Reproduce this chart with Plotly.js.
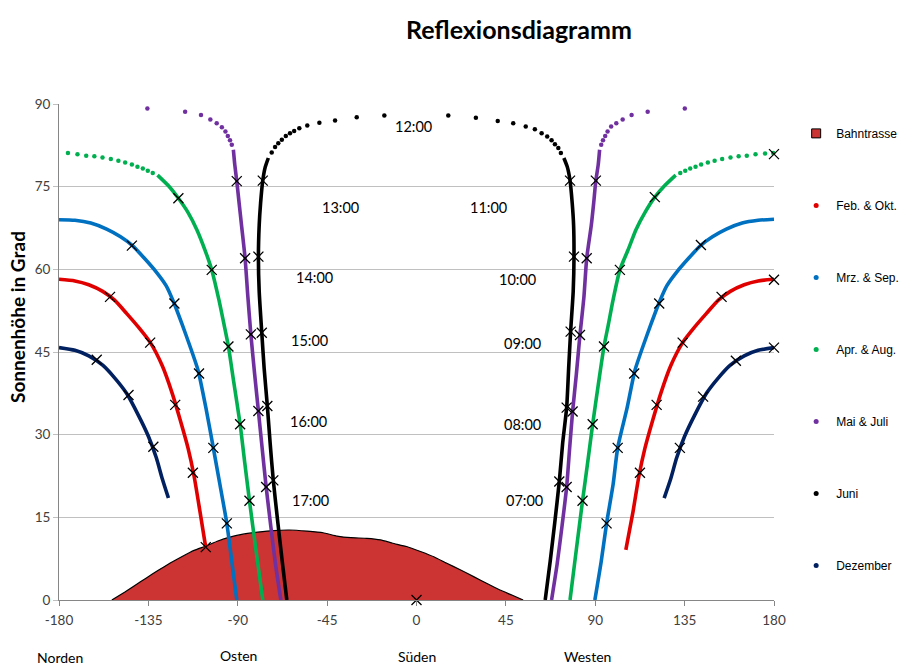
<!DOCTYPE html>
<html>
<head>
<meta charset="utf-8">
<script src="https://cdn.plot.ly/plotly-3.0.1.min.js"></script>
<style>html,body{margin:0;padding:0;background:#fff;}#chart{width:904px;height:666px;}</style>
</head>
<body>
<div id="chart"></div>
<script>
// ---------- data ----------
const seriesNames = ['Bahntrasse', 'Feb. & Okt.', 'Mrz. & Sep.', 'Apr. & Aug.', 'Mai & Juli', 'Juni', 'Dezember'];

const bahnX = [-153.4, -147, -142, -136, -130, -124, -118, -112, -106, -100, -94, -88, -80, -72, -64, -55, -47, -40, -33, -25, -18, -12, -5, 2, 9, 15, 22, 29, 36, 42, 48, 53.7];
const bahnY = [0, 1.4, 2.6, 4.0, 5.4, 6.7, 7.9, 9.0, 9.8, 10.7, 11.4, 11.9, 12.3, 12.6, 12.7, 12.5, 12.2, 11.6, 11.3, 11.2, 10.9, 10.3, 9.7, 8.8, 7.8, 6.7, 5.5, 4.2, 2.9, 1.8, 0.9, 0];

const febX = [-180, -172, -165, -158, -152, -146, -140, -134, -128, -123, -119, -115, -112, -109, -106.1, null, 105.4, 109, 112, 115, 119, 123, 128, 134, 140, 146, 152, 158, 165, 172, 180];
const febY = [58.2, 57.9, 57.2, 56.0, 54.4, 52.0, 49.5, 46.7, 42.5, 37.5, 32.7, 27.5, 22.5, 16.0, 9.5, null, 9.1, 16.0, 22.5, 27.5, 32.7, 37.5, 42.5, 46.7, 49.5, 52.0, 54.4, 56.0, 57.2, 57.9, 58.2];

const mrzX = [-180, -172, -164, -156, -149, -143, -137, -131, -126, -122, -118, -114, -110, -106, -102.3, -99, -95.5, -93, -90.5, null, 89.8, 93, 95.7, 99, 101.3, 106, 110, 114, 118, 122, 126, 131, 137, 143, 149, 156, 164, 172, 180];
const mrzY = [69.0, 68.9, 68.4, 67.3, 65.9, 64.3, 62.0, 59.5, 57.0, 53.8, 50.0, 46.0, 41.7, 34.8, 27.6, 21.0, 13.9, 7.0, 0, null, 0, 7.0, 13.9, 21.0, 27.6, 34.8, 41.7, 46.0, 50.0, 53.8, 57.0, 59.5, 62.0, 64.3, 65.9, 67.3, 68.4, 68.9, 69.1];

const aprX = [-130.4, -125, -119.9, -115, -110.6, -106.5, -103.1, -99.5, -96.8, -94.7, -92, -88.8, -86.5, -84.1, -81, -77.4, null, 77.3, 80.6, 83.6, 86.2, 88.7, 91.7, 94.4, 96.5, 99, 102.4, 106.5, 110.5, 115, 120, 125, 130.5];
const aprY = [77.1, 75.2, 72.9, 70.3, 67.2, 63.5, 59.9, 54.5, 49.8, 46.0, 39.5, 31.9, 25.0, 18.0, 9.5, 0, null, 0, 9.5, 18.0, 25.0, 31.9, 39.5, 46.0, 49.8, 54.5, 59.9, 63.5, 67.2, 70.3, 73.1, 75.2, 77.1];
const aprDotX = [-175.5, -170.7, -166.3, -162.2, -158.1, -153.9, -150.1, -146.7, -143.3, -140.5, -137.8, -135.3, -132.8, 132.8, 135.3, 137.8, 140.5, 143.3, 146.7, 150.1, 153.9, 158.1, 162.2, 166.3, 170.7, 175.5, 179.6];
const aprDotY = [81.1, 80.9, 80.6, 80.5, 80.3, 80.0, 79.7, 79.4, 79.0, 78.6, 78.3, 77.9, 77.5, 77.5, 77.9, 78.3, 78.6, 79.0, 79.4, 79.7, 80.0, 80.3, 80.5, 80.6, 80.9, 81.0, 81.1];

const maiX = [-92.2, -91.5, -90.5, -89.3, -88.1, -86.3, -84.9, -83.4, -81.5, -79.6, -77.7, -75.7, -73.4, -71, -68.3, null, 68, 70.8, 73.3, 75.6, 77.1, 78.6, 80.5, 82.3, 84.3, 85.7, 88, 89.2, 90.3, 91.5, 92.2];
const maiY = [81.7, 79.0, 76.0, 72.0, 68.0, 62.0, 55.0, 48.2, 41.0, 34.3, 27.5, 20.5, 13.5, 6.5, 0, null, 0, 6.5, 13.5, 20.5, 27.5, 34.2, 41.0, 48.1, 55.0, 62.0, 68.0, 72.0, 76.1, 79.0, 81.7];
const maiDotX = [-135.5, -116.5, -108.5, -103.8, -100.6, -98, -96.2, -95, -93.9, -93, 93, 93.9, 95, 96.2, 98, 100.6, 103.8, 108.3, 116.4, 135.1];
const maiDotY = [89.2, 88.6, 88.0, 87.2, 86.5, 85.8, 85.0, 84.2, 83.4, 82.6, 82.6, 83.4, 84.2, 85.0, 85.9, 86.5, 87.2, 88.0, 88.6, 89.2];

const juniX = [-74.6, -76.2, -77.4, -78.5, -79.2, -79.6, -79.2, -77.9, -76.7, -75.1, -73.7, -72.1, -69.8, -67.6, -65.3, null, 64.8, 67.3, 69.6, 71.9, 73.6, 75.6, 76.6, 77.6, 78.9, 79.3, 79.1, 78.4, 77.3, 76, 74.2];
const juniY = [80.2, 78.5, 76.1, 72.0, 68.0, 62.3, 56.0, 48.5, 42.0, 35.2, 28.5, 21.7, 14.0, 7.0, 0, null, 0, 7.0, 14.0, 21.5, 28.5, 34.9, 42.0, 48.7, 56.0, 62.3, 68.0, 72.0, 76.1, 78.5, 80.2];
const juniDotX = [-72.9, -71.2, -69.6, -67.8, -65.8, -63.7, -61.6, -59, -55, -48.9, -41, -30.1, -16.2, 16, 29.9, 40.9, 48.7, 55, 59.6, 63, 65.8, 68, 69.7, 71.4, 72.7];
const juniDotY = [81.2, 82.2, 82.9, 83.5, 84.2, 84.7, 85.1, 85.6, 86.1, 86.6, 87.0, 87.6, 87.9, 87.9, 87.5, 86.9, 86.5, 85.9, 85.4, 84.7, 84.1, 83.4, 82.7, 82.0, 81.1];

const dezX = [-180, -172, -165, -158, -152, -146, -140, -135, -131, -128, -124.9, null, 124.7, 128, 131, 135, 140, 146, 152, 158, 165, 172, 180];
const dezY = [45.8, 45.3, 44.3, 42.6, 40.3, 37.5, 33.5, 29.7, 25.8, 22.0, 18.5, null, 18.5, 22.0, 25.8, 29.7, 33.5, 37.5, 40.3, 42.6, 44.3, 45.3, 45.8];

// hourly positions (×)
const hourX = [-161, -145, -132.5, -154.3, -134.1, -121.5, -112.6, -106.1, -143.3, -121.9, -109.5, -102.3, -95.5, -119.9, -103.1, -94.7, -88.8, -84.1, -90.5, -86.3, -83.4, -79.6, -75.7, -77.4, -79.6, -77.9, -75.1, -72.1, 0,
  180, 160.8, 144.3, 132.6, 180, 153.6, 134, 120.9, 112.5, 143.2, 122.2, 109.6, 101.3, 95.7, 180, 120, 102.4, 94.4, 88.7, 83.6, 90.3, 85.7, 82.3, 78.6, 75.6, 77.3, 79.3, 77.6, 75.6, 71.9];
const hourY = [43.6, 37.2, 27.8, 55.0, 46.7, 35.4, 23.1, 9.6, 64.3, 53.8, 41.1, 27.6, 13.9, 72.9, 59.9, 46.0, 31.9, 18.0, 76.0, 62.0, 48.2, 34.3, 20.5, 76.1, 62.3, 48.5, 35.2, 21.7, 0,
  45.8, 43.4, 36.9, 27.6, 58.1, 55.0, 46.7, 35.4, 23.1, 64.4, 53.8, 41.1, 27.6, 13.9, 80.9, 73.1, 59.9, 46.0, 31.9, 18.0, 76.1, 62.0, 48.1, 34.2, 20.5, 76.1, 62.3, 48.7, 34.9, 21.5];

const hourLabels = ['12:00', '13:00', '11:00', '14:00', '10:00', '15:00', '09:00', '16:00', '08:00', '17:00', '07:00'];
const dirLabels = ['Norden', 'Osten', 'Süden', 'Westen', 'Norden'];
const xTicks = [-180, -135, -90, -45, 0, 45, 90, 135, 180];
const yTicks = [0, 15, 30, 45, 60, 75, 90];

// ---------- styling ----------
const colors = {bahn: '#CC3333', feb: '#E00000', mrz: '#0070C0', apr: '#00B050', mai: '#7030A0', juni: '#000000', dez: '#002060'};
const FONT = 'Lato, "Open Sans", "Liberation Sans", sans-serif';
const LW = 3.6;

function curve(x, y, c) {
  return {x: x, y: y, type: 'scatter', mode: 'lines', line: {color: c, width: LW, shape: 'spline', smoothing: 0.6},
    connectgaps: false, showlegend: false, hoverinfo: 'skip', cliponaxis: false};
}
function dots(x, y, c) {
  return {x: x, y: y, type: 'scatter', mode: 'markers', marker: {color: c, size: 4.5}, showlegend: false, hoverinfo: 'skip', cliponaxis: false};
}
function legendDot(name, c, i) {
  return {x: [null], y: [null], type: 'scatter', mode: 'markers', name: name, legendgroup: 'g' + i,
    marker: {color: c, size: 5}, showlegend: true};
}

const traces = [
  {x: bahnX, y: bahnY, type: 'scatter', mode: 'lines', fill: 'tozeroy', fillcolor: colors.bahn,
    line: {color: '#000', width: 1.2, shape: 'spline', smoothing: 0.3}, showlegend: false, hoverinfo: 'skip'},
  curve(febX, febY, colors.feb),
  curve(mrzX, mrzY, colors.mrz),
  curve(aprX, aprY, colors.apr),
  dots(aprDotX, aprDotY, colors.apr),
  curve(maiX, maiY, colors.mai),
  dots(maiDotX, maiDotY, colors.mai),
  curve(juniX, juniY, colors.juni),
  dots(juniDotX, juniDotY, colors.juni),
  curve(dezX, dezY, colors.dez),
  {x: hourX, y: hourY, type: 'scatter', mode: 'markers', showlegend: false, hoverinfo: 'skip', cliponaxis: false,
    marker: {symbol: 'x-thin', size: 10, color: '#000', line: {color: '#000', width: 1.3}}},
  // legend entries
  {x: [null], y: [null], type: 'scatter', mode: 'markers', name: seriesNames[0], legendgroup: 'g0',
    marker: {symbol: 'square', color: colors.bahn, size: 9, line: {color: '#000', width: 1}}, showlegend: true},
  legendDot(seriesNames[1], colors.feb, 1),
  legendDot(seriesNames[2], colors.mrz, 2),
  legendDot(seriesNames[3], colors.apr, 3),
  legendDot(seriesNames[4], colors.mai, 4),
  legendDot(seriesNames[5], colors.juni, 5),
  legendDot(seriesNames[6], colors.dez, 6)
];

// label positions
const hourPos = [[-1.3, 86.0], [-38.5, 71.3], [36.3, 71.3], [-51.6, 58.6], [50.6, 58.1], [-54.1, 47.0], [53.6, 46.6], [-54.6, 32.3], [53.4, 31.9], [-53.3, 18.1], [54.6, 18.1]];
const dirPos = [[-179.5, -0.115], [-89.8, -0.112], [0, -0.113], [86.2, -0.113], [182, -0.113]];

const annotations = [];
hourLabels.forEach((t, i) => annotations.push({x: hourPos[i][0], y: hourPos[i][1], xref: 'x', yref: 'y', text: t,
  showarrow: false, font: {family: FONT, size: 14.5, color: '#000'}, xanchor: 'center', yanchor: 'middle'}));
dirLabels.forEach((t, i) => annotations.push({x: dirPos[i][0], y: dirPos[i][1], xref: 'x', yref: 'paper', text: t,
  showarrow: false, font: {family: FONT, size: 14, color: '#000'}, xanchor: 'center', yanchor: 'middle'}));
// y-axis title (placed like the reference, slightly above the plot centre)
annotations.push({x: (17 - 59) / 715, y: (600 - 317) / 496, xref: 'paper', yref: 'paper', text: '<b>Sonnenhöhe in Grad</b>', textangle: -90, showarrow: false,
  font: {family: FONT, size: 19, color: '#000'}, xanchor: 'center', yanchor: 'middle'});

const layout = {
  width: 904, height: 666,
  margin: {l: 59, r: 130, t: 104, b: 66, autoexpand: false},
  paper_bgcolor: '#fff', plot_bgcolor: '#fff',
  font: {family: FONT, size: 13, color: '#404040'},
  title: {text: '<b>Reflexionsdiagramm</b>', x: 0.574, xref: 'container', xanchor: 'center', y: 0.955, yref: 'container', yanchor: 'middle',
    font: {family: FONT, size: 25, color: '#000'}},
  xaxis: {range: [-180, 180], tickvals: xTicks, ticktext: xTicks.map(String), showgrid: false, zeroline: false,
    showline: true, linecolor: '#868686', linewidth: 1, ticks: 'outside', ticklen: 5, tickcolor: '#868686',
    ticklabelstandoff: 3, automargin: false,
    tickfont: {family: FONT, size: 13.5, color: '#404040'}, fixedrange: true},
  yaxis: {range: [0, 90], tickvals: yTicks, showgrid: true, gridcolor: '#C0C0C0', gridwidth: 1, zeroline: false,
    showline: true, linecolor: '#868686', linewidth: 1, ticks: 'outside', ticklen: 5, tickcolor: '#C0C0C0', automargin: false,
    tickfont: {family: FONT, size: 13.5, color: '#404040'}, fixedrange: true},
  legend: {x: 1.031, xanchor: 'left', y: 0.97, yanchor: 'top', tracegroupgap: 53, bgcolor: 'rgba(0,0,0,0)',
    font: {family: '"Liberation Sans", Arial, sans-serif', size: 12, color: '#000'}, itemwidth: 30},
  annotations: annotations,
  showlegend: true
};

Plotly.newPlot('chart', traces, layout, {displayModeBar: false, staticPlot: true});
</script>
</body>
</html>
